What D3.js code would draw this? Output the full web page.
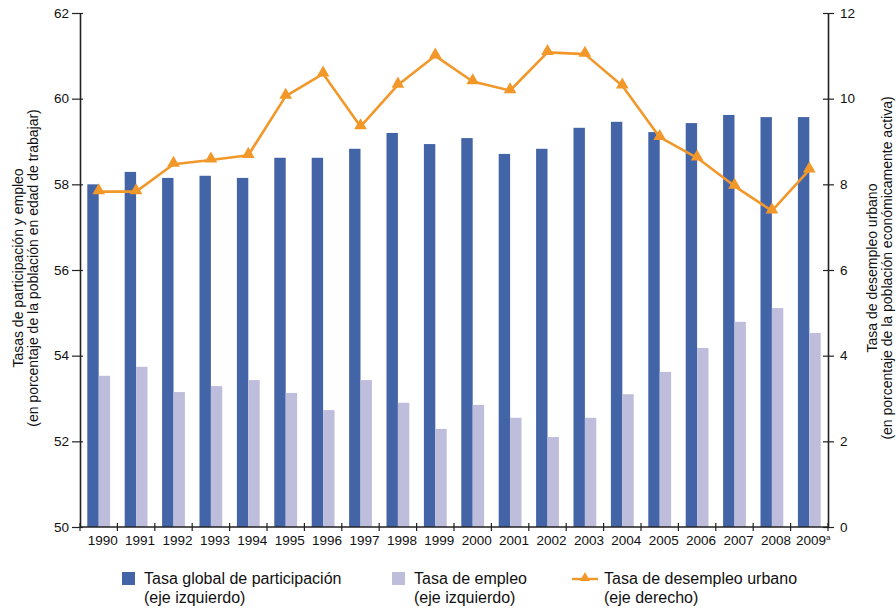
<!DOCTYPE html>
<html>
<head>
<meta charset="utf-8">
<script src="https://cdn.jsdelivr.net/npm/d3@7"></script>
<style>
  html, body { margin: 0; padding: 0; background: #fff; }
  svg { display: block; font-family: "Liberation Sans", Arial, Helvetica, sans-serif; }
</style>
</head>
<body>
<svg id="chart" width="896" height="608"></svg>
<script>
// Years shown on the horizontal axis ("2009" carries a footnote mark)
const years = ["1990","1991","1992","1993","1994","1995","1996","1997","1998","1999",
               "2000","2001","2002","2003","2004","2005","2006","2007","2008","2009"];
// Tasa global de participación (left axis, %)
const participacion = [58.0, 58.29, 58.15, 58.2, 58.15, 58.62, 58.62, 58.83, 59.2, 58.94,
                       59.08, 58.71, 58.83, 59.32, 59.46, 59.22, 59.43, 59.62, 59.57, 59.57];
// Tasa de empleo (left axis, %)
const empleo = [53.53, 53.74, 53.15, 53.29, 53.43, 53.13, 52.73, 53.43, 52.9, 52.29,
                52.85, 52.55, 52.1, 52.55, 53.1, 53.62, 54.18, 54.79, 55.11, 54.53];
// Tasa de desempleo urbano (right axis, %)
const desempleo = [7.83, 7.83, 8.47, 8.57, 8.68, 10.06, 10.58, 9.35, 10.32, 11.0,
                   10.4, 10.19, 11.08, 11.04, 10.3, 9.1, 8.62, 7.96, 7.38, 8.34];
const leftTicks = [50, 52, 54, 56, 58, 60, 62];
const rightTicks = [0, 2, 4, 6, 8, 10, 12];

const colDark = "#4464a8", colLight = "#bebddc", colLine = "#f2982a", axisCol = "#222";

const svg = d3.select("#chart");
const m = { left: 80, right: 828, top: 13, bottom: 527 };

const x = d3.scaleBand().domain(years).range([m.left, m.right]);
const yL = d3.scaleLinear().domain([50, 62]).range([m.bottom, m.top]);
const yR = d3.scaleLinear().domain([0, 12]).range([m.bottom, m.top]);

const bw = x.bandwidth() * 0.305;

// Bars: participation (dark) then employment (light)
svg.append("g").selectAll("rect").data(years).join("rect")
  .attr("x", d => x(d) + x.bandwidth() / 2 - bw)
  .attr("y", (d, i) => yL(participacion[i]))
  .attr("width", bw)
  .attr("height", (d, i) => yL(50) - yL(participacion[i]))
  .attr("fill", colDark);

svg.append("g").selectAll("rect").data(years).join("rect")
  .attr("x", d => x(d) + x.bandwidth() / 2)
  .attr("y", (d, i) => yL(empleo[i]))
  .attr("width", bw)
  .attr("height", (d, i) => yL(50) - yL(empleo[i]))
  .attr("fill", colLight);

// Unemployment line with triangle markers
const cx = d => x(d) + x.bandwidth() / 2;
const line = d3.line().x((d, i) => cx(years[i])).y(d => yR(d));
svg.append("path").datum(desempleo)
  .attr("d", line).attr("fill", "none")
  .attr("stroke", colLine).attr("stroke-width", 2.6).attr("stroke-linejoin", "round");

const tri = d3.symbol().type(d3.symbolTriangle).size(70);
svg.append("g").selectAll("path").data(desempleo).join("path")
  .attr("d", tri)
  .attr("transform", (d, i) => `translate(${cx(years[i])},${yR(d) - 1})`)
  .attr("fill", colLine);

// Axes
function styleAxis(g) {
  g.selectAll(".domain").attr("stroke", axisCol).attr("stroke-width", 1.6);
  g.selectAll(".tick line").attr("stroke", axisCol).attr("stroke-width", 1.2);
  g.selectAll(".tick text").attr("fill", "#111").attr("font-size", 13.5)
    .attr("font-family", "Liberation Sans, Arial, sans-serif");
}

const gL = svg.append("g").attr("transform", `translate(${m.left},0)`)
  .call(d3.axisLeft(yL).tickValues(leftTicks).tickSize(8).tickSizeOuter(0).tickPadding(3));
styleAxis(gL);
gL.selectAll(".tick line").attr("x2", 3).attr("x1", -8);

const gR = svg.append("g").attr("transform", `translate(${m.right},0)`)
  .call(d3.axisRight(yR).tickValues(rightTicks).tickSize(6).tickSizeOuter(0).tickPadding(6));
styleAxis(gR);
gR.selectAll(".tick line").attr("x1", -5);

// Bottom axis: ticks on category boundaries, labels under each year
const gB = svg.append("g").attr("transform", `translate(0,${m.bottom})`);
gB.append("line").attr("x1", m.left).attr("x2", m.right)
  .attr("stroke", axisCol).attr("stroke-width", 1.6);
const bounds = years.map(d => x(d)).concat([m.right]);
gB.selectAll("line.tk").data(bounds).join("line").attr("class", "tk")
  .attr("x1", d => d).attr("x2", d => d).attr("y1", -4).attr("y2", 4)
  .attr("stroke", axisCol).attr("stroke-width", 1.2);
const xl = gB.selectAll("text").data(years).join("text")
  .attr("x", d => cx(d) + 4).attr("y", 18)
  .attr("text-anchor", "middle").attr("font-size", 13.5).attr("fill", "#111");
xl.text(d => d);
xl.filter(d => d === "2009").append("tspan")
  .attr("font-size", 8).attr("dy", -5).text("a");

// Axis titles
const leftTitle = svg.append("text").attr("transform", "translate(23,268) rotate(-90)")
  .attr("text-anchor", "middle").attr("font-size", 14).attr("fill", "#111");
leftTitle.append("tspan").attr("x", 0).attr("y", 0).text("Tasas de participación y empleo");
leftTitle.append("tspan").attr("x", 0).attr("y", 15).text("(en porcentaje de la población en edad de trabajar)");

const rightTitle = svg.append("text").attr("transform", "translate(877,268) rotate(-90)")
  .attr("text-anchor", "middle").attr("font-size", 14).attr("fill", "#111");
rightTitle.append("tspan").attr("x", 0).attr("y", 0).text("Tasa de desempleo urbano");
rightTitle.append("tspan").attr("x", 0).attr("y", 15).text("(en porcentaje de la población económicamente activa)");

// Legend
const legend = svg.append("g").attr("font-size", 16).attr("fill", "#111");
const items = [
  { x: 122, kind: "rect", color: colDark, l1: "Tasa global de participación", l2: "(eje izquierdo)" },
  { x: 392, kind: "rect", color: colLight, l1: "Tasa de empleo", l2: "(eje izquierdo)" },
  { x: 572, kind: "line", color: colLine, l1: "Tasa de desempleo urbano", l2: "(eje derecho)" }
];
items.forEach(it => {
  const g = legend.append("g");
  let tx;
  if (it.kind === "rect") {
    g.append("rect").attr("x", it.x).attr("y", 572).attr("width", 13).attr("height", 13).attr("fill", it.color);
    tx = it.x + 22;
  } else {
    g.append("line").attr("x1", it.x).attr("x2", it.x + 26).attr("y1", 579).attr("y2", 579)
      .attr("stroke", it.color).attr("stroke-width", 2.4);
    g.append("path").attr("d", d3.symbol().type(d3.symbolTriangle).size(45))
      .attr("transform", `translate(${it.x + 13},578)`).attr("fill", it.color);
    tx = it.x + 32;
  }
  g.append("text").attr("x", tx).attr("y", 584).text(it.l1);
  g.append("text").attr("x", tx).attr("y", 603).text(it.l2);
});
</script>
</body>
</html>
